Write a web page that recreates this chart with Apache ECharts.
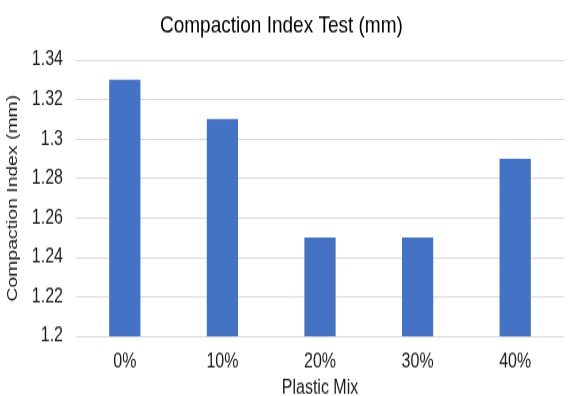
<!DOCTYPE html>
<html>
<head>
<meta charset="utf-8">
<script src="https://cdn.jsdelivr.net/npm/echarts@6/dist/echarts.min.js"></script>
<style>
  html, body { margin: 0; padding: 0; background: #fff; }
  #frame { width: 575px; height: 396px; position: relative; }
  /* the chart is laid out at a shorter height and stretched vertically to fill the frame */
  #chart { position: absolute; left: 0; top: 0; width: 575px; height: 317px;
           transform: scaleY(1.25); transform-origin: 0 0; }
</style>
</head>
<body>
<div id="frame"><div id="chart"></div></div>
<script>
// Compaction index per plastic mix ratio
const categories = ['0%', '10%', '20%', '30%', '40%'];
const compactionIndex = [1.33, 1.31, 1.25, 1.25, 1.29];
const yMin = 1.2;
const yMax = 1.34;
const yStep = 0.02;

const font = 'Liberation Sans, Arial, sans-serif';
const textColor = '#1a1a1a';
const chart = echarts.init(document.getElementById('chart'), null, { renderer: 'canvas' });

chart.setOption({
  animation: false,
  title: {
    text: 'Compaction Index Test (mm)',
    left: 160,
    top: 11,
    textStyle: { fontFamily: font, fontSize: 19, fontWeight: 'normal', color: '#000' },
    padding: 0
  },
  grid: { left: 76, right: 11, top: 48, bottom: 48, outerBoundsMode: 'none' },
  xAxis: {
    type: 'category',
    data: categories,
    name: 'Plastic Mix',
    nameLocation: 'middle',
    nameGap: 26,
    nameTextStyle: { fontFamily: font, fontSize: 16, color: textColor },
    axisLine: { lineStyle: { color: '#d9d9d9', width: 1 } },
    axisTick: { show: false },
    axisLabel: { fontFamily: font, fontSize: 16, color: textColor, margin: 13 }
  },
  yAxis: {
    type: 'value',
    min: yMin,
    max: yMax,
    interval: yStep,
    name: 'Compaction Index (mm)',
    nameLocation: 'middle',
    nameGap: 46,
    nameTextStyle: { fontFamily: font, fontSize: 15.5, color: textColor },
    axisLine: { show: false },
    axisTick: { show: false },
    axisLabel: {
      fontFamily: font, fontSize: 16, color: textColor, margin: 13,
      formatter: v => String(parseFloat(v.toFixed(2)))
    },
    splitLine: { lineStyle: { color: '#d9d9d9', width: 1 } }
  },
  series: [{
    type: 'bar',
    data: compactionIndex,
    barWidth: '32%',
    itemStyle: { color: '#4472C4' }
  }]
});
</script>
</body>
</html>
